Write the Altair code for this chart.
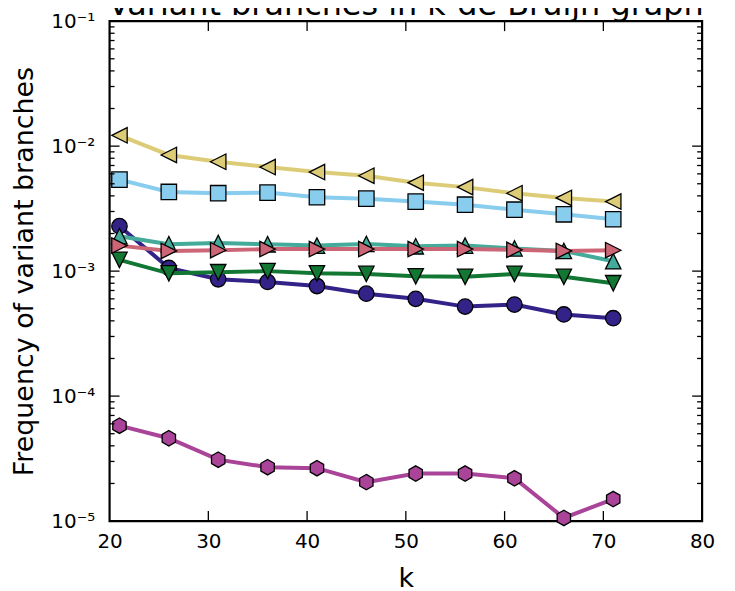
import altair as alt
import pandas as pd

title_text = ["Variant branches in k-de Bruijn graph"]

k = [21, 26, 31, 36, 41, 46, 51, 56, 61, 66, 71]

circle_navy = [2.29e-3, 1.06e-3, 8.6e-4, 8.2e-4, 7.6e-4, 6.6e-4, 6.0e-4, 5.2e-4, 5.4e-4, 4.5e-4, 4.2e-4]
square_blue = [5.4e-3, 4.3e-3, 4.2e-3, 4.25e-3, 3.9e-3, 3.8e-3, 3.6e-3, 3.4e-3, 3.1e-3, 2.85e-3, 2.6e-3]
up_teal = [1.9e-3, 1.64e-3, 1.68e-3, 1.64e-3, 1.6e-3, 1.65e-3, 1.58e-3, 1.6e-3, 1.52e-3, 1.45e-3, 1.2e-3]
down_green = [1.23e-3, 9.6e-4, 9.8e-4, 1.0e-3, 9.6e-4, 9.5e-4, 9.1e-4, 9.0e-4, 9.5e-4, 9.0e-4, 8.0e-4]
left_yellow = [1.22e-2, 8.5e-3, 7.5e-3, 6.8e-3, 6.2e-3, 5.8e-3, 5.1e-3, 4.7e-3, 4.2e-3, 3.85e-3, 3.6e-3]
right_rose = [1.6e-3, 1.45e-3, 1.47e-3, 1.5e-3, 1.5e-3, 1.5e-3, 1.5e-3, 1.5e-3, 1.48e-3, 1.45e-3, 1.47e-3]
hex_purple = [5.8e-5, 4.6e-5, 3.1e-5, 2.7e-5, 2.65e-5, 2.05e-5, 2.4e-5, 2.4e-5, 2.2e-5, 1.06e-5, 1.5e-5]

x_ticks = [20, 30, 40, 50, 60, 70, 80]
y_ticks = [1e-5, 1e-4, 1e-3, 1e-2, 1e-1]

W, H = 595, 502
FONT = "DejaVu Sans"

series = [
    ("circle", circle_navy, "#332288", "circle"),
    ("square", square_blue, "#88CCEE", "square"),
    ("up", up_teal, "#44AA99", "M0,-1L-1,1L1,1Z"),
    ("down", down_green, "#117733", "M0,1L-1,-1L1,-1Z"),
    ("left", left_yellow, "#DDCC77", "M-1,0L1,-1L1,1Z"),
    ("right", right_rose, "#CC6677", "M1,0L-1,-1L-1,1Z"),
    ("hex", hex_purple, "#AA4499", "M0,-1L0.866,-0.5L0.866,0.5L0,1L-0.866,0.5L-0.866,-0.5Z"),
]

xscale = alt.Scale(domain=[20, 80], nice=False, zero=False)
yscale = alt.Scale(type="log", domain=[1e-5, 1e-1], nice=False)

label_expr = ("datum.value < 2e-5 ? '10⁻⁵' : datum.value < 2e-4 ? '10⁻⁴' : "
              "datum.value < 2e-3 ? '10⁻³' : datum.value < 2e-2 ? '10⁻²' : '10⁻¹'")

xaxis = alt.Axis(values=x_ticks, ticks=False, domain=False, grid=False, labelFlush=False,
                 labelFontSize=20, labelFont=FONT, labelColor="black", labelPadding=11,
                 title="k", titleFontSize=27, titleFont=FONT, titleFontWeight="normal",
                 titleColor="black", titlePadding=14)
yaxis = alt.Axis(values=y_ticks, ticks=False, domain=False, grid=False, labelFlush=False,
                 labelExpr=label_expr, labelFontSize=20, labelFont=FONT, labelColor="black",
                 labelPadding=15, title="Frequency of variant branches", titleFontSize=27,
                 titleFont=FONT, titleFontWeight="normal", titleColor="black", titlePadding=12)

xenc = alt.X("k:Q", scale=xscale, axis=xaxis)
yenc = alt.Y("freq:Q", scale=yscale, axis=yaxis)

layers = []
for name, vals, color, shape in series:
    df = pd.DataFrame({"k": k, "freq": vals})
    base = alt.Chart(df)
    line = base.mark_line(color=color, strokeWidth=4).encode(x=xenc, y=yenc)
    pts = base.mark_point(shape=shape, filled=True, fill=color, stroke="black",
                          strokeWidth=1.3, size=240, opacity=1).encode(x=xenc, y=yenc)
    layers += [line, pts]

# inward tick marks (matplotlib classic style)
xt = pd.DataFrame({"k": x_ticks[1:-1]})
minor = [m * d for d in [1e-5, 1e-4, 1e-3, 1e-2] for m in range(2, 10)]
yt_major = pd.DataFrame({"freq": y_ticks})
yt_minor = pd.DataFrame({"freq": minor})

tick_style = dict(color="black", strokeWidth=1.3)
ticks = [
    alt.Chart(xt).mark_rule(**tick_style).encode(x=xenc, y=alt.value(H), y2=alt.value(H - 10)),
    alt.Chart(xt).mark_rule(**tick_style).encode(x=xenc, y=alt.value(0), y2=alt.value(10)),
    alt.Chart(yt_major).mark_rule(**tick_style).encode(y=yenc, x=alt.value(0), x2=alt.value(10)),
    alt.Chart(yt_major).mark_rule(**tick_style).encode(y=yenc, x=alt.value(W), x2=alt.value(W - 10)),
    alt.Chart(yt_minor).mark_rule(**tick_style).encode(y=yenc, x=alt.value(0), x2=alt.value(5)),
    alt.Chart(yt_minor).mark_rule(**tick_style).encode(y=yenc, x=alt.value(W), x2=alt.value(W - 5)),
]

title = alt.Chart(pd.DataFrame({"t": title_text})).mark_text(
    font=FONT, fontSize=32, color="black", align="center", baseline="alphabetic"
).encode(text="t:N", x=alt.value(W / 2), y=alt.value(-6))

chart = alt.layer(*layers, *ticks, title).properties(
    width=W, height=H,
    padding={"left": 102, "top": 12, "right": 25, "bottom": 70},
    autosize=alt.AutoSizeParams(type="none"),
    background="white",
).configure_view(stroke="black", strokeWidth=2.2)

chart.save("out.html", embed_options={"renderer": "svg", "actions": False})
